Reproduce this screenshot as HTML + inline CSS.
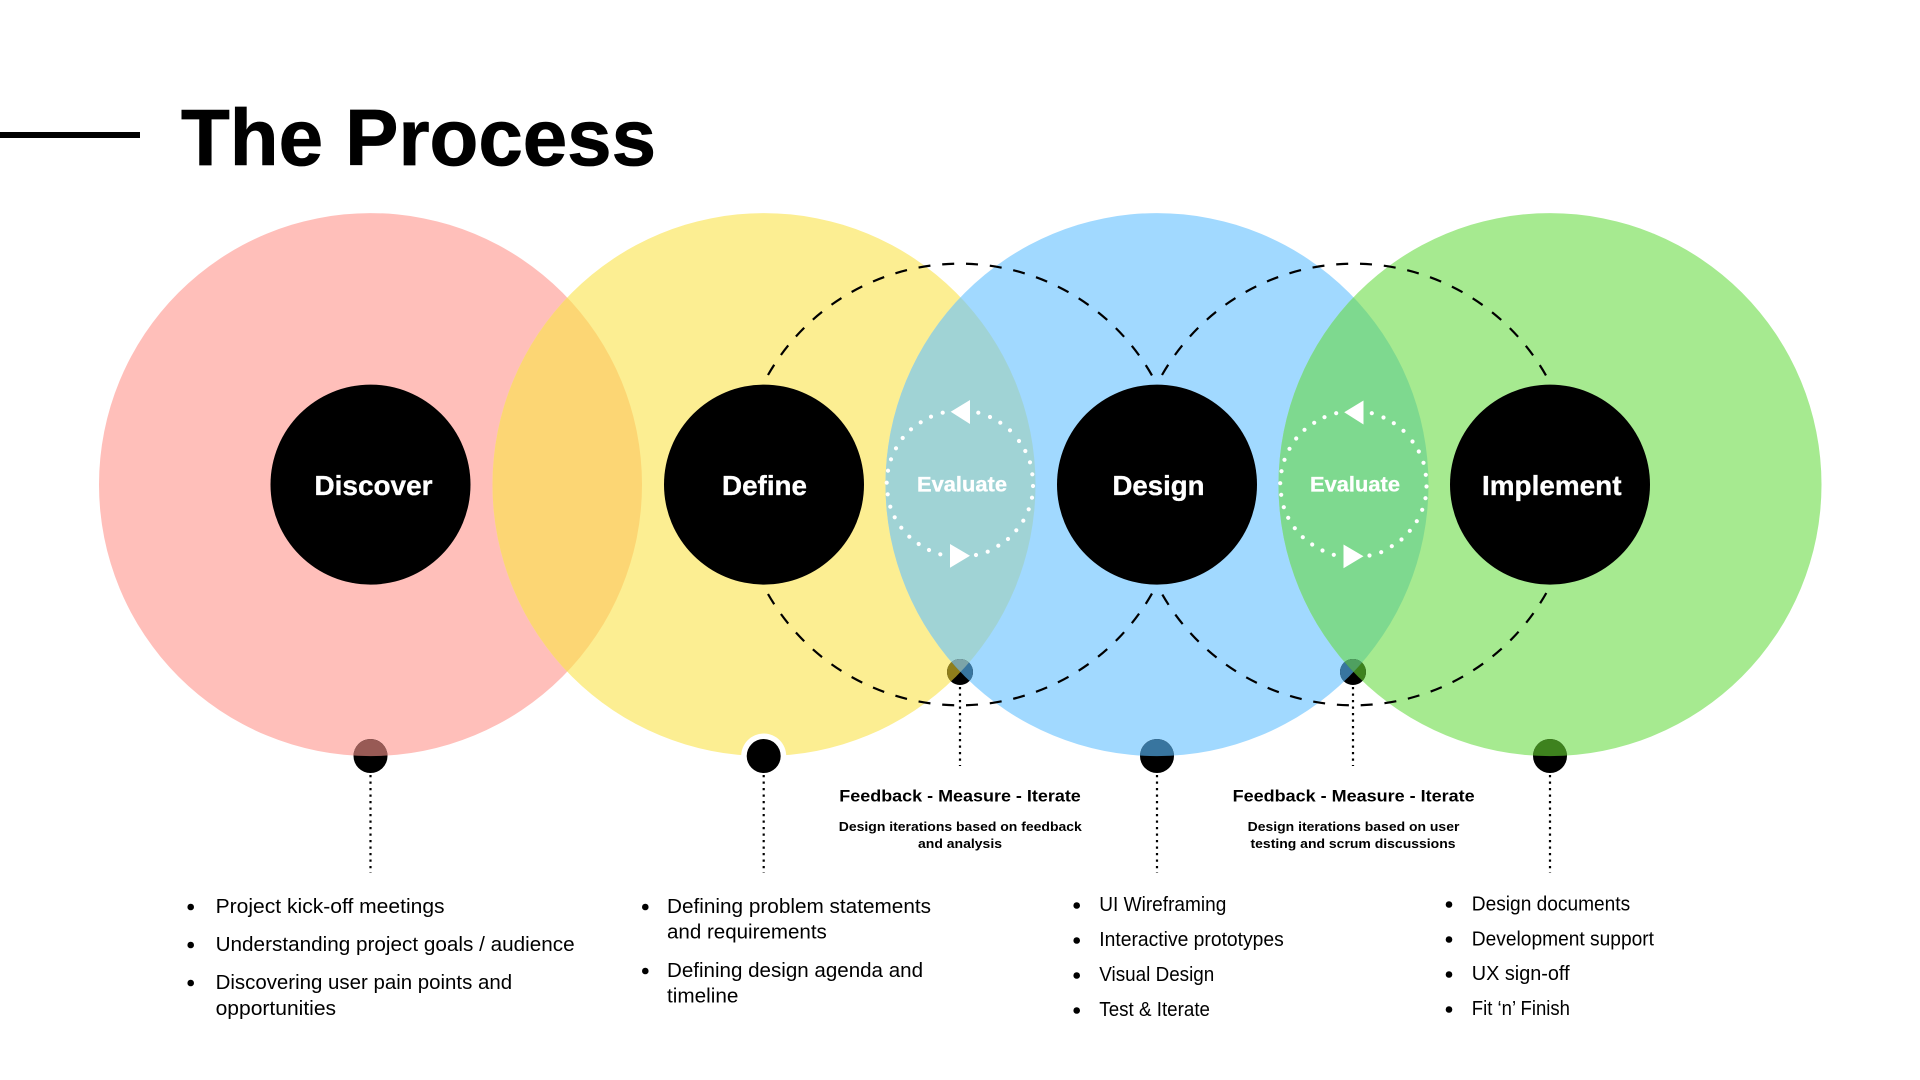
<!DOCTYPE html>
<html lang="en">
<head>
<meta charset="utf-8">
<title>The Process</title>
<style>
html,body{margin:0;padding:0;background:#fff;width:1920px;height:1080px;overflow:hidden}
svg{display:block;font-family:"Liberation Sans",Arial,sans-serif}
.lab{font-weight:700;fill:#fff;stroke:#fff;stroke-width:.35;font-size:27.5px}
.ev{font-weight:700;fill:#fff;stroke:#fff;stroke-width:.3;font-size:21px}
.fb{font-weight:700;fill:#000;font-size:17px}
.sb{font-weight:700;fill:#000;font-size:13px}
.li{fill:#000;font-size:20px}
.dv{stroke:#000;stroke-width:2.2;stroke-dasharray:2.2 4.3;fill:none}
.da{stroke:#000;stroke-width:2.2;stroke-dasharray:12 11.85;fill:none}
.dt{stroke:#fff;stroke-width:4.2;stroke-linecap:round;fill:none}
</style>
</head>
<body>
<svg width="1920" height="1080" viewBox="0 0 1920 1080" xmlns="http://www.w3.org/2000/svg">
<defs>
<clipPath id="cA"><circle cx="370.5" cy="484.6" r="271.5"/></clipPath>
<clipPath id="cB"><circle cx="764" cy="484.6" r="271.5"/></clipPath>
<clipPath id="cC"><circle cx="1157" cy="484.6" r="271.5"/></clipPath>
<clipPath id="cD"><circle cx="1550" cy="484.6" r="271.5"/></clipPath>
</defs>

<rect width="1920" height="1080" fill="#fff"/>

<rect x="0" y="132" width="140" height="6" fill="#000"/>
<text x="181" y="165" font-size="80" font-weight="700" fill="#000" stroke="#000" stroke-width="0.8" textLength="475" lengthAdjust="spacingAndGlyphs">The Process</text>

<circle cx="370.5" cy="484.6" r="271.5" fill="#FFBFBA"/>
<circle cx="764" cy="484.6" r="271.5" fill="#FCEE92"/>
<circle cx="1157" cy="484.6" r="271.5" fill="#A1D9FF"/>
<circle cx="1550" cy="484.6" r="271.5" fill="#A6EA90"/>
<g clip-path="url(#cA)"><circle cx="764" cy="484.6" r="271.5" fill="#FCD674"/></g>
<g clip-path="url(#cB)"><circle cx="1157" cy="484.6" r="271.5" fill="#A0D3D5"/></g>
<g clip-path="url(#cC)"><circle cx="1550" cy="484.6" r="271.5" fill="#7ED98F"/></g>

<path class="da" d="M768 375 A221 221 0 0 1 1152.3 376"/>
<path class="da" d="M768 594 A221 221 0 0 0 1152.3 593"/>
<path class="da" d="M1162 375 A221 221 0 0 1 1546.3 376"/>
<path class="da" d="M1546.3 593 A221 221 0 0 1 1162 594"/>

<circle cx="370.5" cy="484.6" r="100" fill="#000"/>
<circle cx="764" cy="484.6" r="100" fill="#000"/>
<circle cx="1157" cy="484.6" r="100" fill="#000"/>
<circle cx="1550" cy="484.6" r="100" fill="#000"/>

<text class="lab" x="314.5" y="495" textLength="118" lengthAdjust="spacingAndGlyphs">Discover</text>
<text class="lab" x="722" y="495" textLength="85" lengthAdjust="spacingAndGlyphs">Define</text>
<text class="lab" x="1112.5" y="495" textLength="92" lengthAdjust="spacingAndGlyphs">Design</text>
<text class="lab" x="1482" y="495" textLength="139.5" lengthAdjust="spacingAndGlyphs">Implement</text>

<path class="dt" d="M978.3 412.7h0M990 417h0M1000.3 422.7h0M1010 430.3h0M1019 441h0M1025.3 451h0M1030 462.3h0M1032.3 474.3h0M1033 486h0M1032 497.7h0M1028.7 509.3h0M1023.3 520.7h0M1016.3 530.3h0M1008 539h0M998.3 545.7h0M987.7 551.7h0M976 555h0M940.3 554.3h0M929 550h0M918.7 544h0M909.3 536.7h0M901.3 527.7h0M894.7 517.3h0M890.3 506.7h0M887.7 494.3h0M886.7 482.7h0M888 470.7h0M891 459.3h0M896 448.3h0M902.7 438h0M911 429.3h0M920.7 422.3h0M931 416.7h0M942.7 412.7h0"/>
<path class="dt" transform="translate(393.5 0.5)" d="M978.3 412.7h0M990 417h0M1000.3 422.7h0M1010 430.3h0M1019 441h0M1025.3 451h0M1030 462.3h0M1032.3 474.3h0M1033 486h0M1032 497.7h0M1028.7 509.3h0M1023.3 520.7h0M1016.3 530.3h0M1008 539h0M998.3 545.7h0M987.7 551.7h0M976 555h0M940.3 554.3h0M929 550h0M918.7 544h0M909.3 536.7h0M901.3 527.7h0M894.7 517.3h0M890.3 506.7h0M887.7 494.3h0M886.7 482.7h0M888 470.7h0M891 459.3h0M896 448.3h0M902.7 438h0M911 429.3h0M920.7 422.3h0M931 416.7h0M942.7 412.7h0"/>
<polygon points="950.7,411.7 970,400 970,424" fill="#fff"/>
<polygon points="950,544 970,555.7 950,567.7" fill="#fff"/>
<polygon points="1344.2,412.2 1363.5,400.5 1363.5,424.5" fill="#fff"/>
<polygon points="1343.5,544.5 1363.5,556.2 1343.5,568.2" fill="#fff"/>
<text class="ev" x="917" y="491.5" textLength="90" lengthAdjust="spacingAndGlyphs">Evaluate</text>
<text class="ev" x="1310" y="491.5" textLength="90" lengthAdjust="spacingAndGlyphs">Evaluate</text>

<circle cx="370.5" cy="756" r="17" fill="#000"/>
<g clip-path="url(#cA)"><circle cx="370.5" cy="756" r="17" fill="#985A55"/></g>
<circle cx="763.7" cy="756" r="22.5" fill="#fff"/>
<circle cx="763.7" cy="756" r="17" fill="#000"/>
<circle cx="1157" cy="756" r="17" fill="#000"/>
<g clip-path="url(#cC)"><circle cx="1157" cy="756" r="17" fill="#38759F"/></g>
<circle cx="1550" cy="756" r="17" fill="#000"/>
<g clip-path="url(#cD)"><circle cx="1550" cy="756" r="17" fill="#3E821E"/></g>

<circle cx="960" cy="672" r="13" fill="#000"/>
<g clip-path="url(#cB)"><circle cx="960" cy="672" r="13" fill="#8F7E1B"/></g>
<g clip-path="url(#cC)"><circle cx="960" cy="672" r="13" fill="#38759F"/></g>
<g clip-path="url(#cB)"><g clip-path="url(#cC)"><circle cx="960" cy="672" r="13" fill="#7CA4A8"/></g></g>
<circle cx="1353" cy="672" r="13" fill="#000"/>
<g clip-path="url(#cC)"><circle cx="1353" cy="672" r="13" fill="#38759F"/></g>
<g clip-path="url(#cD)"><circle cx="1353" cy="672" r="13" fill="#3E821E"/></g>
<g clip-path="url(#cC)"><g clip-path="url(#cD)"><circle cx="1353" cy="672" r="13" fill="#4FA060"/></g></g>

<path class="dv" d="M370.5 775V873"/>
<path class="dv" d="M763.7 775V873"/>
<path class="dv" d="M1157 775V873"/>
<path class="dv" d="M1550 775V873"/>
<path class="dv" d="M960 687V766"/>
<path class="dv" d="M1353 687V766"/>

<text class="fb" x="839.3" y="801.5" textLength="241.5" lengthAdjust="spacingAndGlyphs">Feedback - Measure - Iterate</text>
<text class="sb" x="838.8" y="831" textLength="243" lengthAdjust="spacingAndGlyphs">Design iterations based on feedback</text>
<text class="sb" x="918" y="848" textLength="84" lengthAdjust="spacingAndGlyphs">and analysis</text>
<text class="fb" x="1232.6" y="801.5" textLength="242" lengthAdjust="spacingAndGlyphs">Feedback - Measure - Iterate</text>
<text class="sb" x="1247.7" y="831" textLength="211.7" lengthAdjust="spacingAndGlyphs">Design iterations based on user</text>
<text class="sb" x="1250.5" y="848" textLength="205" lengthAdjust="spacingAndGlyphs">testing and scrum discussions</text>

<g fill="#000">
<circle cx="190.7" cy="907" r="3.3"/><circle cx="190.7" cy="945" r="3.3"/><circle cx="190.7" cy="983" r="3.3"/>
<circle cx="645.3" cy="907" r="3.3"/><circle cx="645.3" cy="971" r="3.3"/>
<circle cx="1076.7" cy="905.5" r="3.3"/><circle cx="1076.7" cy="940.5" r="3.3"/><circle cx="1076.7" cy="975.5" r="3.3"/><circle cx="1076.7" cy="1010.5" r="3.3"/>
<circle cx="1449" cy="904.5" r="3.3"/><circle cx="1449" cy="939.5" r="3.3"/><circle cx="1449" cy="974.5" r="3.3"/><circle cx="1449" cy="1009.5" r="3.3"/>
</g>

<text class="li" x="215.6" y="913" textLength="229" lengthAdjust="spacingAndGlyphs">Project kick-off meetings</text>
<text class="li" x="215.6" y="951" textLength="359" lengthAdjust="spacingAndGlyphs">Understanding project goals / audience</text>
<text class="li" x="215.6" y="989" textLength="296.5" lengthAdjust="spacingAndGlyphs">Discovering user pain points and</text>
<text class="li" x="215.6" y="1015" textLength="120.5" lengthAdjust="spacingAndGlyphs">opportunities</text>

<text class="li" x="667" y="913" textLength="264" lengthAdjust="spacingAndGlyphs">Defining problem statements</text>
<text class="li" x="667" y="938.5" textLength="159.8" lengthAdjust="spacingAndGlyphs">and requirements</text>
<text class="li" x="667" y="977" textLength="256" lengthAdjust="spacingAndGlyphs">Defining design agenda and</text>
<text class="li" x="667" y="1002.5" textLength="71.4" lengthAdjust="spacingAndGlyphs">timeline</text>

<text class="li" x="1099.3" y="911" textLength="127" lengthAdjust="spacingAndGlyphs">UI Wireframing</text>
<text class="li" x="1099.3" y="946" textLength="184.5" lengthAdjust="spacingAndGlyphs">Interactive prototypes</text>
<text class="li" x="1099.3" y="981" textLength="115" lengthAdjust="spacingAndGlyphs">Visual Design</text>
<text class="li" x="1099.3" y="1016" textLength="110.7" lengthAdjust="spacingAndGlyphs">Test &amp; Iterate</text>

<text class="li" x="1471.8" y="910.5" textLength="158.4" lengthAdjust="spacingAndGlyphs">Design documents</text>
<text class="li" x="1471.8" y="945.5" textLength="182.2" lengthAdjust="spacingAndGlyphs">Development support</text>
<text class="li" x="1471.8" y="980" textLength="97.8" lengthAdjust="spacingAndGlyphs">UX sign-off</text>
<text class="li" x="1471.8" y="1015" textLength="98.2" lengthAdjust="spacingAndGlyphs">Fit ‘n’ Finish</text>
</svg>
</body>
</html>
